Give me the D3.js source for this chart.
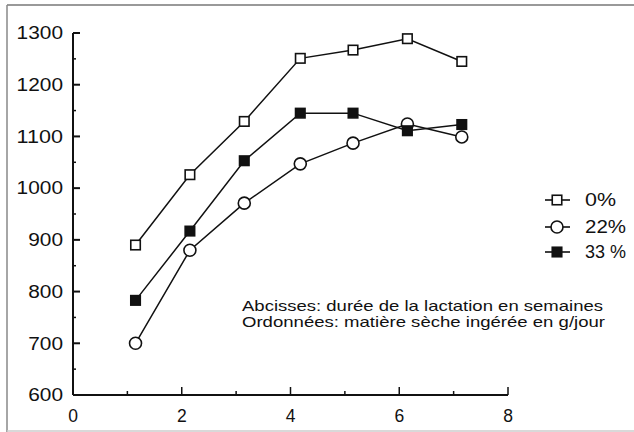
<!DOCTYPE html>
<html>
<head>
<meta charset="utf-8">
<script src="https://cdn.jsdelivr.net/npm/d3@7"></script>
<style>
  html, body { margin: 0; padding: 0; background: #fff; }
  svg { display: block; }
  text { font-family: "Liberation Sans", Arial, sans-serif; fill: #111; }
</style>
</head>
<body>
<svg id="chart" width="634" height="432"></svg>
<script>
// ---- Data ----
const weeks = [1.15, 2.15, 3.15, 4.18, 5.15, 6.15, 7.15];
const series0 = [890, 1026, 1129, 1251, 1267, 1289, 1245];   // 0 %
const series22 = [700, 880, 971, 1047, 1087, 1124, 1099];    // 22 %
const series33 = [783, 917, 1053, 1145, 1145, 1111, 1123];   // 33 %
const seriesNames = ["0%", "22%", "33 %"];
const yTicks = [600, 700, 800, 900, 1000, 1100, 1200, 1300];
const yMinorTicks = [650, 750, 850, 950, 1050, 1150, 1250];
const xTicks = [0, 2, 4, 6, 8];
const xMinorTicks = [1, 3, 5, 7];
const noteLines = [
  "Abcisses: durée de la lactation en semaines",
  "Ordonnées: matière sèche ingérée en g/jour"
];

const svg = d3.select("#chart");

// frame
svg.append("line").attr("x1", 7).attr("x2", 634).attr("y1", 5).attr("y2", 5)
  .attr("stroke", "#777").attr("stroke-width", 1.5);
svg.append("line").attr("x1", 7).attr("x2", 7).attr("y1", 5).attr("y2", 432)
  .attr("stroke", "#888").attr("stroke-width", 1.5);
svg.append("line").attr("x1", 7).attr("x2", 634).attr("y1", 431).attr("y2", 431)
  .attr("stroke", "#ccc").attr("stroke-width", 1.5);

const x = d3.scaleLinear().domain([0, 8]).range([73, 508]);
const y = d3.scaleLinear().domain([600, 1300]).range([395, 33]);

// axes lines
const axisG = svg.append("g").attr("stroke", "#111").attr("stroke-width", 2).attr("fill", "none");
axisG.append("line").attr("x1", x(0)).attr("x2", x(0)).attr("y1", y(600)).attr("y2", y(1300));
axisG.append("line").attr("x1", x(0)).attr("x2", x(8)).attr("y1", y(600)).attr("y2", y(600));

// y ticks (inside, to the right)
axisG.selectAll(".ytick").data(yTicks.filter(d => d > 600)).enter().append("line")
  .attr("x1", x(0)).attr("x2", x(0) + 7).attr("y1", d => y(d)).attr("y2", d => y(d));
axisG.selectAll(".ytickm").data(yMinorTicks).enter().append("line")
  .attr("x1", x(0) - 1).attr("x2", x(0) + 3).attr("y1", d => y(d)).attr("y2", d => y(d))
  .attr("stroke-width", 1.5);
// x ticks (inside, upward)
axisG.selectAll(".xtick").data(xTicks.filter(d => d > 0)).enter().append("line")
  .attr("x1", d => x(d)).attr("x2", d => x(d)).attr("y1", y(600)).attr("y2", y(600) - 8)
  .attr("stroke-width", 1.5);
axisG.selectAll(".xtickm").data(xMinorTicks).enter().append("line")
  .attr("x1", d => x(d)).attr("x2", d => x(d)).attr("y1", y(600)).attr("y2", y(600) - 4)
  .attr("stroke-width", 1.5);

// tick labels
svg.selectAll(".ylab").data(yTicks).enter().append("text")
  .attr("x", x(0) - 10).attr("y", d => y(d)).attr("dy", "0.36em")
  .attr("text-anchor", "end").attr("font-size", 17.5)
  .attr("textLength", d => String(d).length * 11.6).attr("lengthAdjust", "spacingAndGlyphs")
  .text(d => d);
svg.selectAll(".xlab").data(xTicks).enter().append("text")
  .attr("x", d => x(d)).attr("y", 422)
  .attr("text-anchor", "middle").attr("font-size", 17.5)
  .text(d => d);

// series
const allSeries = [
  { name: seriesNames[0], values: series0, shape: "square", fill: "#fff", legW: 31 },
  { name: seriesNames[1], values: series22, shape: "circle", fill: "#fff", legW: 41 },
  { name: seriesNames[2], values: series33, shape: "square", fill: "#111", legW: 41 }
];
const line = d3.line().x(d => x(d[0])).y(d => y(d[1]));

function drawMarker(g, shape, fill, cx, cy) {
  if (shape === "circle") {
    g.append("circle").attr("cx", cx).attr("cy", cy).attr("r", 6)
      .attr("fill", fill).attr("stroke", "#111").attr("stroke-width", 1.6);
  } else {
    const s = 9.5;
    g.append("rect").attr("x", cx - s / 2).attr("y", cy - s / 2).attr("width", s).attr("height", s)
      .attr("fill", fill).attr("stroke", "#111").attr("stroke-width", 1.6);
  }
}

// draw lines first, then markers
allSeries.forEach(s => {
  const pts = weeks.map((w, i) => [w, s.values[i]]);
  svg.append("path").attr("d", line(pts)).attr("fill", "none")
    .attr("stroke", "#111").attr("stroke-width", 1.5);
});
allSeries.forEach(s => {
  const g = svg.append("g");
  weeks.forEach((w, i) => drawMarker(g, s.shape, s.fill, x(w), y(s.values[i])));
});

// legend
const legY = [200, 227, 252];
allSeries.forEach((s, i) => {
  const g = svg.append("g");
  g.append("line").attr("x1", 545).attr("x2", 570).attr("y1", legY[i]).attr("y2", legY[i])
    .attr("stroke", "#111").attr("stroke-width", 1.6);
  drawMarker(g, s.shape, s.fill, 557, legY[i]);
  g.append("text").attr("x", 585).attr("y", legY[i]).attr("dy", "0.36em")
    .attr("font-size", 17.5)
    .attr("textLength", s.legW).attr("lengthAdjust", "spacingAndGlyphs")
    .text(s.name);
});

// note
svg.selectAll(".note").data(noteLines).enter().append("text")
  .attr("x", 242).attr("y", (d, i) => 311 + i * 16)
  .attr("font-size", 15)
  .attr("textLength", (d, i) => i === 0 ? 361 : 363).attr("lengthAdjust", "spacingAndGlyphs")
  .text(d => d);
</script>
</body>
</html>
